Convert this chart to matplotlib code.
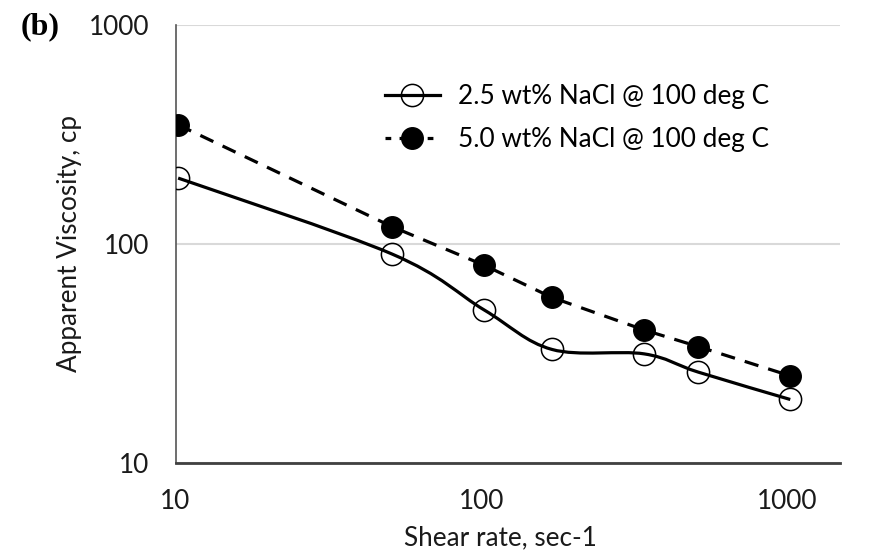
import numpy as np
import matplotlib
matplotlib.use('Agg')
import matplotlib.pyplot as plt
from matplotlib.path import Path
from matplotlib.patches import PathPatch
from matplotlib.lines import Line2D

# shear rate (sec-1) and apparent viscosity (cp)
shear = [10.2, 51, 102, 170, 340, 511, 1021]
visc_25 = [200, 90, 50, 33, 31.5, 26, 19.5]
visc_50 = [350, 120, 80, 57, 40.5, 34, 25]
label_25 = '2.5 wt% NaCl @ 100 deg C'
label_50 = '5.0 wt% NaCl @ 100 deg C'
xticks = [10, 100, 1000]
yticks = [10, 100, 1000]

plt.rcParams['font.family'] = ['Lato', 'DejaVu Sans']
FS = 18.8


def smooth_path(x, y):
    # excel style smoothed line: bezier through the points, built in log space
    p = np.column_stack([np.log10(x), np.log10(y)])
    pp = np.vstack([p[0], p, p[-1]])
    verts = [p[0]]
    codes = [Path.MOVETO]
    for i in range(len(p) - 1):
        c1 = pp[i + 1] + (pp[i + 2] - pp[i]) / 6
        c2 = pp[i + 2] - (pp[i + 3] - pp[i + 1]) / 6
        verts += [c1, c2, p[i + 1]]
        codes += [Path.CURVE4] * 3
    return Path(10 ** np.array(verts), codes)


fig = plt.figure(figsize=(8.69, 5.6), dpi=100)
ax = fig.add_axes([175.5 / 869, 97 / 560, (840 - 175.5) / 869, (463 - 25) / 560])
ax.set_xscale('log')
ax.set_yscale('log')
ax.set_xlim(10, 10 ** (1 + (840 - 175.5) / 306))
ax.set_ylim(10, 1000)

ax.add_patch(PathPatch(smooth_path(shear, visc_25), facecolor='none',
                       edgecolor='black', lw=2.3, transform=ax.transData, zorder=3))
ax.plot(shear, visc_25, ls='none', marker='o', ms=16, mfc='none',
        mec='black', mew=1.1, zorder=4)
ax.plot(shear, visc_50, color='black', lw=2.3, ls=(0, (4.5, 3.2)),
        marker='o', ms=15.5, mfc='black', mec='black', zorder=4)

h25 = Line2D([], [], color='black', lw=2.3, marker='o', ms=16, mfc='none',
             mec='black', mew=1.1)
h50 = Line2D([], [], color='black', lw=2.3, ls=(0, (1.8, 2.6)), marker='o',
             ms=15.5, mfc='black', mec='black')
ax.legend([h25, h50], [label_25, label_50], loc='center left',
          bbox_to_anchor=((385 - 175.5) / 664.5, (463 - 118) / 438),
          frameon=False, fontsize=FS, handlelength=2.1, handletextpad=0.7,
          labelspacing=0.7, borderaxespad=0, borderpad=0)

ax.set_xticks(xticks)
ax.set_xticklabels([str(t) for t in xticks])
ax.set_yticks(yticks)
ax.set_yticklabels([str(t) for t in yticks])
ax.minorticks_off()
ax.tick_params(length=0, labelsize=FS, labelcolor='#1a1a1a')
ax.tick_params(axis='x', pad=19)
ax.tick_params(axis='y', pad=19)

ax.grid(axis='y', color='#d9d9d9', lw=1.5)
ax.set_axisbelow(True)
for s in ['top', 'right']:
    ax.spines[s].set_visible(False)
ax.spines['left'].set_color('#555555')
ax.spines['left'].set_linewidth(1.2)
ax.spines['bottom'].set_color('#404040')
ax.spines['bottom'].set_linewidth(2)

ax.set_xlabel('Shear rate, sec-1', fontsize=FS, color='#1a1a1a', va='center')
ax.xaxis.set_label_coords((500 - 175.5) / 664.5, (463 - 538) / 438)
ax.set_ylabel('Apparent Viscosity, cp', fontsize=FS, color='#1a1a1a', va='center')
ax.yaxis.set_label_coords((69 - 175.5) / 664.5, 0.5)

fig.text(21 / 869, 1 - 27 / 560, '(b)', fontsize=23, fontweight='bold',
         family='Liberation Serif', va='center', ha='left')

fig.savefig('out.png', dpi=100)
